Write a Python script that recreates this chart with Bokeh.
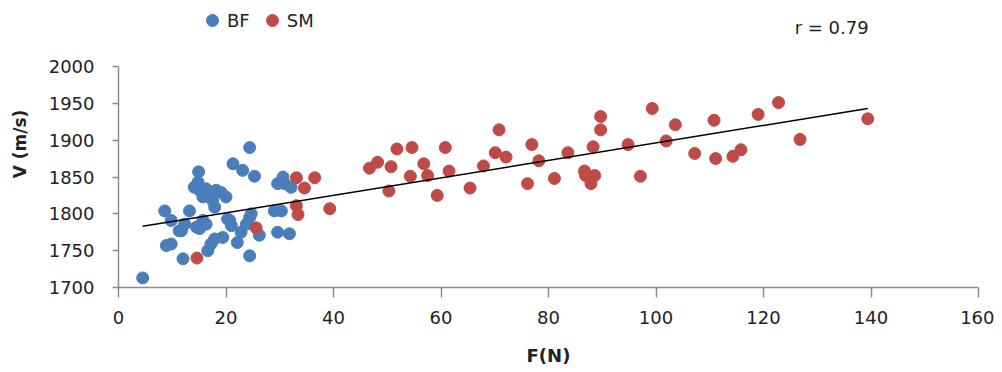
from bokeh.plotting import figure
from bokeh.models import Range1d, Legend, LegendItem, Label, FixedTicker
from bokeh.embed import file_html
from bokeh.resources import INLINE

# ---- data ----
bf_f = [4.5, 8.6, 8.9, 9.8, 9.8, 12.0, 11.7, 13.2, 12.3, 14.5, 14.9, 14.8, 14.1, 15.1, 15.7,
        16.3, 16.9, 17.5, 17.9, 18.2, 19.1, 20.0, 15.7, 16.3, 15.1, 17.9, 17.2, 16.6, 19.4,
        20.3, 21.0, 21.3, 23.1, 25.3, 24.4, 22.1, 22.8, 24.4, 24.4, 24.7, 26.2, 23.8, 29.0,
        30.3, 29.6, 30.6, 30.9, 29.6, 31.8, 32.1, 11.3, 20.7]
bf_v = [1713, 1804, 1757, 1759, 1791, 1739, 1777, 1804, 1786, 1782, 1857, 1843, 1836, 1832, 1823,
        1834, 1829, 1818, 1809, 1832, 1829, 1823, 1791, 1786, 1780, 1766, 1759, 1750, 1768,
        1793, 1784, 1868, 1859, 1851, 1890, 1761, 1775, 1743, 1795, 1800, 1771, 1786, 1804,
        1804, 1841, 1850, 1841, 1775, 1773, 1836, 1777, 1791]

sm_f = [14.6, 25.6, 33.1, 36.5, 34.6, 33.1, 33.4, 39.3, 46.7, 48.2, 50.7, 50.3, 51.8, 54.6,
        54.3, 56.8, 57.5, 59.3, 60.8, 61.5, 65.4, 67.9, 70.1, 70.8, 72.1, 76.1, 76.9, 78.2,
        81.1, 83.6, 86.7, 86.9, 88.6, 87.9, 88.3, 89.7, 89.7, 94.8, 97.1, 99.3, 101.9, 103.6,
        107.2, 110.8, 111.1, 114.3, 115.8, 119.0, 122.8, 126.8, 139.4]
sm_v = [1740, 1781, 1849, 1849, 1835, 1811, 1799, 1807, 1862, 1870, 1864, 1831, 1888, 1890,
        1851, 1868, 1852, 1825, 1890, 1858, 1835, 1865, 1883, 1914, 1877, 1841, 1894, 1872,
        1848, 1883, 1858, 1852, 1852, 1841, 1891, 1914, 1932, 1894, 1851, 1943, 1899, 1921,
        1882, 1927, 1875, 1878, 1887, 1935, 1951, 1901, 1929]

trend_f = [4.5, 139.4]
trend_v = [1783, 1943]

x_ticks = [0, 20, 40, 60, 80, 100, 120, 140, 160]
y_ticks = [1700, 1750, 1800, 1850, 1900, 1950, 2000]
r_text = "r = 0.79"

FONT = "DejaVu Sans"
TXT = "#222222"
AX = "#8c8c8c"
BLUE = "#4a7ebb"
RED = "#be4b48"

# plot frame extends to the top of the figure so that the legend and r label fit inside it
Y_TOP = 1700 + 300 * 287 / 221

p = figure(width=994, height=372, output_backend="svg", toolbar_location=None,
           x_range=Range1d(0, 160), y_range=Range1d(1700, Y_TOP),
           min_border_left=118, min_border_right=16, min_border_top=0, min_border_bottom=85)
p.outline_line_color = None
p.grid.visible = False
p.background_fill_color = "white"
p.border_fill_color = "white"

r_bf = p.scatter(bf_f, bf_v, size=12, color=BLUE, line_color=BLUE)
r_sm = p.scatter(sm_f, sm_v, size=12, color=RED, line_color=RED)
p.line(trend_f, trend_v, line_color="black", line_width=1.5)

p.xaxis.ticker = FixedTicker(ticks=x_ticks)
p.yaxis.ticker = FixedTicker(ticks=y_ticks)
p.yaxis.bounds = (1700, 2000)
for ax in (p.xaxis[0], p.yaxis[0]):
    ax.axis_line_color = AX
    ax.axis_line_width = 1.5
    ax.major_tick_line_color = AX
    ax.major_tick_line_width = 1.5
    ax.major_tick_in = 0
    ax.minor_tick_line_color = None
    ax.major_label_text_font = FONT
    ax.major_label_text_font_size = "18px"
    ax.major_label_text_color = TXT
    ax.axis_label_text_font = FONT
    ax.axis_label_text_font_style = "bold"
    ax.axis_label_text_color = TXT

p.xaxis.major_tick_out = 10
p.yaxis.major_tick_out = 6
p.xaxis.major_label_standoff = 13
p.yaxis.major_label_standoff = 18
p.xaxis.axis_label = "F(N)"
p.yaxis.axis_label = "V (m/s)"
p.xaxis.axis_label_text_font_size = "18px"
p.yaxis.axis_label_text_font_size = "17px"
p.xaxis.axis_label_standoff = 18
p.yaxis.axis_label_standoff = 16

legend = Legend(items=[LegendItem(label="BF", renderers=[r_bf]),
                       LegendItem(label="SM", renderers=[r_sm])],
                orientation="horizontal", location=(79, 252))
legend.label_text_font = FONT
legend.label_text_font_size = "18px"
legend.label_text_color = TXT
legend.glyph_width = 30
legend.glyph_height = 30
legend.label_standoff = 0
legend.spacing = 7
legend.padding = 0
legend.margin = 0
legend.border_line_color = None
legend.background_fill_alpha = 0
p.add_layout(legend, "center")

p.add_layout(Label(x=125.8, y=2053, text=r_text, text_font=FONT, text_font_size="18px",
                   text_color=TXT, text_baseline="middle"))

open("out.html", "w").write(file_html(p, INLINE))
